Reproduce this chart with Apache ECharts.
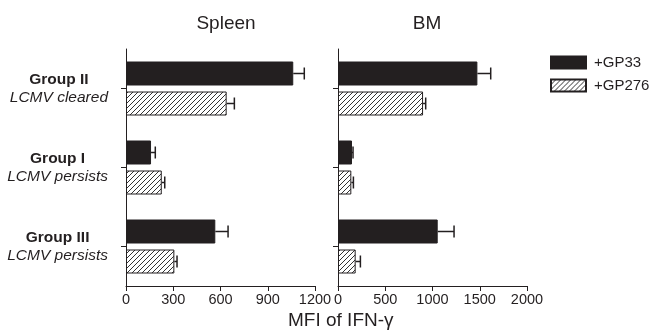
<!DOCTYPE html>
<html><head><meta charset="utf-8">
<script src="https://cdn.jsdelivr.net/npm/echarts@6/dist/echarts.min.js"></script>
<style>html,body{margin:0;padding:0;background:#fff}#c{width:651px;height:331px}</style>
</head><body><div id="c"></div>
<script>
// Data (top-to-bottom order)
const groups = ['Group II', 'Group I', 'Group III'];
const subtitles = ['LCMV cleared', 'LCMV persists', 'LCMV persists'];
const spleenGP33 = [1062, 159, 567];
const spleenGP33Err = [70, 27, 81];
const spleenGP276 = [639, 227, 307];
const spleenGP276Err = [49, 19, 17];
const bmGP33 = [1475, 148, 1055];
const bmGP33Err = [141, 11, 173];
const bmGP276 = [900, 141, 187];
const bmGP276Err = [28, 22, 50];
const spleenTicks = [0, 300, 600, 900, 1200];
const bmTicks = [0, 500, 1000, 1500, 2000];
const panels = ['Spleen', 'BM'];
const seriesNames = ['+GP33', '+GP276'];
const axisName = 'MFI of IFN-γ';

const ink = '#231f20';
const rev = a => a.slice().reverse();
const cats = rev(groups);
const subMap = {};
groups.forEach((g, i) => subMap[g] = subtitles[i]);

// hatch pattern
const pc = document.createElement('canvas');
pc.width = 5; pc.height = 5;
const px = pc.getContext('2d');
px.fillStyle = '#fff'; px.fillRect(0, 0, 5, 5);
px.strokeStyle = '#333'; px.lineWidth = 1;
px.beginPath();
px.moveTo(-1, 6); px.lineTo(6, -1);
px.moveTo(-1, 1); px.lineTo(1, -1);
px.moveTo(4, 6); px.lineTo(6, 4);
px.stroke();
const hatch = { image: pc, repeat: 'repeat' };

const barW = 24, gapPx = 6;
const off = (barW + gapPx) / 2;

function errSeries(gridIdx, vals, errs, dy) {
  const data = rev(vals).map((v, i) => [v, i, rev(errs)[i]]);
  return {
    type: 'custom', xAxisIndex: gridIdx, yAxisIndex: gridIdx, z: 5,
    silent: true,
    renderItem: function (params, api) {
      const v = api.value(0), c = api.value(1), e = api.value(2);
      const p0 = api.coord([v, c]);
      const p1 = api.coord([v + e, c]);
      const y = p0[1] + dy;
      return {
        type: 'group', children: [
          { type: 'line', shape: { x1: p0[0], y1: y, x2: p1[0], y2: y }, style: { stroke: ink, lineWidth: 1.5 } },
          { type: 'line', shape: { x1: p1[0], y1: y - 6, x2: p1[0], y2: y + 6 }, style: { stroke: ink, lineWidth: 1.5 } }
        ]
      };
    },
    data: data
  };
}

const chart = echarts.init(document.getElementById('c'));
const font = 'Liberation Sans, Arial, Helvetica, sans-serif';
function xAxis(gridIdx, ticks) {
  return {
    type: 'value', gridIndex: gridIdx, min: ticks[0], max: ticks[ticks.length - 1],
    interval: ticks[1] - ticks[0],
    splitLine: { show: false },
    axisLine: { show: true, lineStyle: { color: ink, width: 1 } },
    axisTick: { show: true, length: 5, lineStyle: { color: ink } },
    axisLabel: { color: ink, fontSize: 14.5, fontFamily: font, margin: 6, formatter: v => String(v) }
  };
}
function yAxis(gridIdx, showLabels) {
  return {
    type: 'category', gridIndex: gridIdx, data: cats,
    axisLine: { show: true, lineStyle: { color: ink, width: 1 } },
    axisTick: { show: true, alignWithLabel: true, length: 5, lineStyle: { color: ink } },
    axisLabel: {
      show: showLabels, margin: 18, align: 'right',
      formatter: v => '{b|' + v + '}\n{i|' + subMap[v] + '}',
      rich: {
        b: { fontWeight: 'bold', fontSize: 15.5, color: ink, fontFamily: font, lineHeight: 18, align: 'center' },
        i: { fontStyle: 'italic', fontSize: 15.5, color: ink, fontFamily: font, lineHeight: 18, align: 'center' }
      }
    }
  };
}
function bar(gridIdx, name, vals, fill) {
  return {
    type: 'bar', name: name, xAxisIndex: gridIdx, yAxisIndex: gridIdx,
    data: rev(vals), barWidth: barW, barGap: (gapPx / barW * 100) + '%',
    itemStyle: { color: fill, borderColor: ink, borderWidth: 1 }
  };
}

chart.setOption({
  animation: false,
  backgroundColor: '#fff',
  title: [
    { text: panels[0], left: 221, top: 9, textAlign: 'center', textStyle: { fontSize: 19, fontWeight: 'normal', color: ink, fontFamily: font } },
    { text: panels[1], left: 422, top: 9, textAlign: 'center', textStyle: { fontSize: 19, fontWeight: 'normal', color: ink, fontFamily: font } }
  ],
  legend: {
    left: 545, top: 50, orient: 'vertical', itemWidth: 35, itemHeight: 12, itemGap: 8,
    icon: 'rect',
    data: seriesNames,
    textStyle: { fontSize: 15, color: ink, fontFamily: font, padding: [0, 0, 0, 3] }
  },
  grid: [
    { left: 126, top: 49, width: 189, height: 237 },
    { left: 338, top: 49, width: 189, height: 237 }
  ],
  xAxis: [xAxis(0, spleenTicks), xAxis(1, bmTicks)],
  yAxis: [yAxis(0, true), yAxis(1, false)],
  graphic: [{ type: 'text', left: 288, top: 311, style: { text: axisName, fontSize: 19, fill: ink, fontFamily: font } }],
  series: [
    bar(0, seriesNames[0], spleenGP33, ink),
    bar(0, seriesNames[1], spleenGP276, hatch),
    bar(1, seriesNames[0], bmGP33, ink),
    bar(1, seriesNames[1], bmGP276, hatch),
    errSeries(0, spleenGP33, spleenGP33Err, -off),
    errSeries(0, spleenGP276, spleenGP276Err, off),
    errSeries(1, bmGP33, bmGP33Err, -off),
    errSeries(1, bmGP276, bmGP276Err, off)
  ]
});
</script></body></html>
